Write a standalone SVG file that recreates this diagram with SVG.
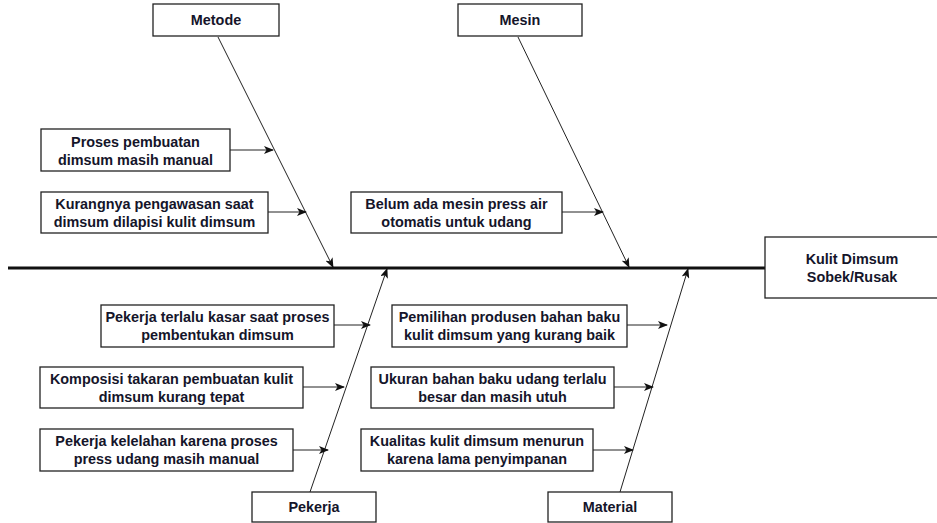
<svg xmlns="http://www.w3.org/2000/svg" width="937" height="523" viewBox="0 0 937 523">
<defs>
<marker id="ah" markerWidth="10" markerHeight="8" refX="9" refY="4" orient="auto" markerUnits="userSpaceOnUse">
<path d="M0,0 L10,4 L0,8 L2.5,4 Z" fill="#111"/>
</marker>
<style>
.box{fill:#fff;stroke:#222;stroke-width:1.3}
.t{font-family:"Liberation Sans",Arial,sans-serif;font-weight:bold;font-size:14.4px;fill:#15152a;text-anchor:middle}
.c{stroke:#222;stroke-width:1;fill:none;marker-end:url(#ah)}
</style>
</defs>
<rect width="937" height="523" fill="#fff"/>
<g id="connectors">
<line x1="8" y1="268" x2="765" y2="268" stroke="#111" stroke-width="3"/>
<line class="c" x1="218" y1="37" x2="333" y2="267"/>
<line class="c" x1="518" y1="37" x2="629" y2="267"/>
<line class="c" x1="310" y1="492" x2="387" y2="269"/>
<line class="c" x1="620" y1="492" x2="688" y2="269"/>
<line class="c" x1="230" y1="150" x2="273" y2="150"/>
<line class="c" x1="268" y1="212" x2="306" y2="212"/>
<line class="c" x1="562" y1="212" x2="603" y2="212"/>
<line class="c" x1="334" y1="325" x2="370" y2="325"/>
<line class="c" x1="303" y1="387" x2="344" y2="387"/>
<line class="c" x1="288" y1="450" x2="328" y2="450"/>
<line class="c" x1="627" y1="325" x2="667" y2="325"/>
<line class="c" x1="614" y1="387" x2="653" y2="387"/>
<line class="c" x1="593" y1="450" x2="633" y2="450"/>
</g>
<g id="metode"><rect class="box" x="153" y="4" width="126" height="32"/><text class="t" x="216" y="25">Metode</text></g>
<g id="mesin"><rect class="box" x="458" y="4" width="124" height="32"/><text class="t" x="520" y="25">Mesin</text></g>
<g id="kulit"><rect class="box" x="765" y="237" width="175" height="61"/><text class="t" x="852" y="264">Kulit Dimsum</text><text class="t" x="852" y="282">Sobek/Rusak</text></g>
<g id="pekerja"><rect class="box" x="252" y="492" width="124" height="30"/><text class="t" x="314" y="512">Pekerja</text></g>
<g id="material"><rect class="box" x="548" y="492" width="124" height="30"/><text class="t" x="610" y="512">Material</text></g>
<g id="proses"><rect class="box" x="41" y="129" width="189" height="42"/><text class="t" x="135.5" y="147">Proses pembuatan</text><text class="t" x="135.5" y="165">dimsum masih manual</text></g>
<g id="kurangnya"><rect class="box" x="41" y="192" width="227" height="41"/><text class="t" x="154.5" y="209">Kurangnya pengawasan saat</text><text class="t" x="154.5" y="227">dimsum dilapisi kulit dimsum</text></g>
<g id="belum"><rect class="box" x="351" y="192" width="211" height="41"/><text class="t" x="456.5" y="209">Belum ada mesin press air</text><text class="t" x="456.5" y="227">otomatis untuk udang</text></g>
<g id="terlalu"><rect class="box" x="101" y="305" width="233" height="42"/><text class="t" x="217.5" y="322">Pekerja terlalu kasar saat proses</text><text class="t" x="217.5" y="340">pembentukan dimsum</text></g>
<g id="komposisi"><rect class="box" x="40" y="367" width="263" height="41"/><text class="t" x="171.5" y="384">Komposisi takaran pembuatan kulit</text><text class="t" x="171.5" y="402">dimsum kurang tepat</text></g>
<g id="kelelahan"><rect class="box" x="40" y="429" width="253" height="42"/><text class="t" x="166.5" y="446">Pekerja kelelahan karena proses</text><text class="t" x="166.5" y="464">press udang masih manual</text></g>
<g id="pemilihan"><rect class="box" x="392" y="305" width="235" height="42"/><text class="t" x="509.5" y="322">Pemilihan produsen bahan baku</text><text class="t" x="509.5" y="340">kulit dimsum yang kurang baik</text></g>
<g id="ukuran"><rect class="box" x="371" y="367" width="243" height="41"/><text class="t" x="492.5" y="384">Ukuran bahan baku udang terlalu</text><text class="t" x="492.5" y="402">besar dan masih utuh</text></g>
<g id="kualitas"><rect class="box" x="361" y="429" width="232" height="42"/><text class="t" x="477" y="446">Kualitas kulit dimsum menurun</text><text class="t" x="477" y="464">karena lama penyimpanan</text></g>
</svg>
